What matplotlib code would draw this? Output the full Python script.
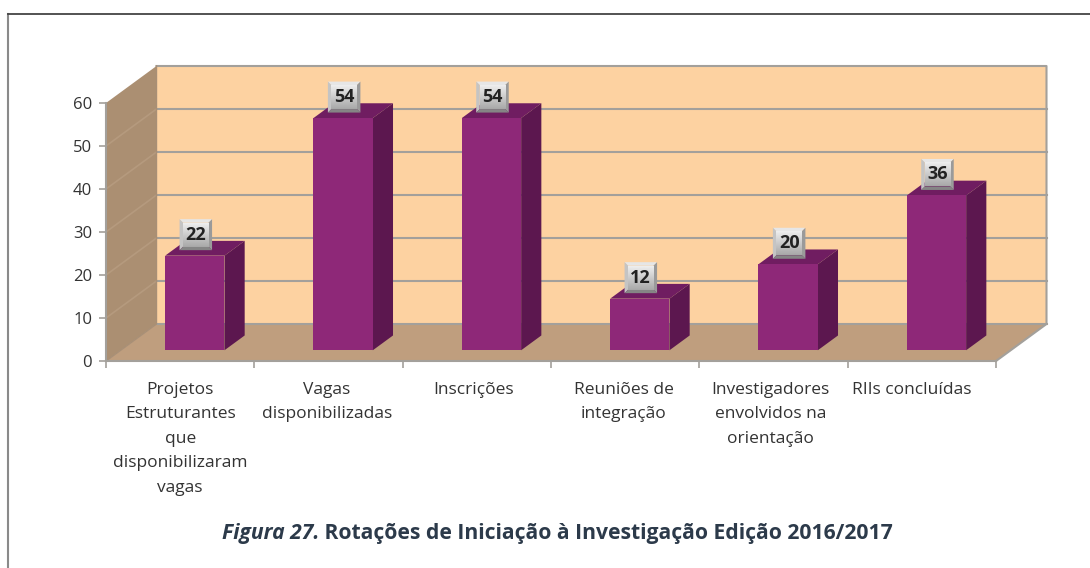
import numpy as np
import matplotlib
matplotlib.use("Agg")
import matplotlib.pyplot as plt
from matplotlib.lines import Line2D
from matplotlib.patches import Polygon

categories = ["Projetos\nEstruturantes\nque\ndisponibilizaram\nvagas",
              "Vagas\ndisponibilizadas",
              "Inscrições",
              "Reuniões de\nintegração",
              "Investigadores\nenvolvidos na\norientação",
              "RIIs concluídas"]
values = [22, 54, 54, 12, 20, 36]
y_ticks = [0, 10, 20, 30, 40, 50, 60]

W, H = 1090, 568
plt.rcParams['font.family'] = ['Open Sans', 'DejaVu Sans']

fig = plt.figure(figsize=(W / 100, H / 100), dpi=100)
ax = fig.add_axes([106 / W, (H - 361) / H, 890 / W, 258 / H])
ax.set_xlim(0, len(categories))
ax.set_ylim(0, 60)

px = len(categories) / 890   # one pixel in x units
py = 60 / 258                # one pixel in y units
DX, DY = 50.5 * px, 37 * py  # full depth of the chart box


def depth(x, y, d):
    return x + d * DX, y + d * DY


def poly(pts, color, z, **kw):
    ax.add_patch(Polygon(pts, closed=True, facecolor=color, edgecolor='none',
                         zorder=z, clip_on=False, **kw))


n = len(categories)
grey = '#a3a09b'

# back wall, side wall, floor
poly([depth(0, 0, 1), depth(n, 0, 1), depth(n, 60, 1), depth(0, 60, 1)], '#fdd2a1', 1)
poly([depth(0, 0, 0), depth(0, 0, 1), depth(0, 60, 1), depth(0, 60, 0)], '#ab8f72', 1)
poly([depth(0, 0, 0), depth(n, 0, 0), depth(n, 0, 1), depth(0, 0, 1)], '#bf9e7e', 3)

for t in y_ticks[1:-1]:
    xs, ys = zip(depth(0, t, 1), depth(n, t, 1))
    ax.plot(xs, ys, color=grey, lw=1.5, zorder=2, clip_on=False)
    xs, ys = zip(depth(0, t, 0), depth(0, t, 1))
    ax.plot(xs, ys, color='#b59a7e', lw=1.2, zorder=2, clip_on=False)

edge = [depth(0, 60, 1), depth(n, 60, 1), depth(n, 0, 1), depth(n, 0, 0)]
ax.plot(*zip(*edge), color=grey, lw=1.5, zorder=4, clip_on=False)
ax.plot(*zip(depth(0, 0, 1), depth(n, 0, 1)), color=grey, lw=1.5, zorder=4, clip_on=False)
ax.plot(*zip(depth(0, 0, 0), depth(0, 0, 1), depth(0, 60, 1)), color='#a88f76', lw=1, zorder=4, clip_on=False)

# bars
bar_w = 0.4
d0, d1 = 0.29, 0.69
grad = np.linspace(0.93, 0.66, 40).reshape(-1, 1)
for i, v in enumerate(values):
    x0 = i + 0.5 - bar_w / 2
    x1 = x0 + bar_w
    poly([depth(x0, 0, d0), depth(x1, 0, d0), depth(x1, v, d0), depth(x0, v, d0)], '#8e2878', 6)
    poly([depth(x0, v, d0), depth(x1, v, d0), depth(x1, v, d1), depth(x0, v, d1)], '#701d61', 5)
    poly([depth(x1, 0, d0), depth(x1, 0, d1), depth(x1, v, d1), depth(x1, v, d0)], '#5c174f', 5)

    # value box with a bevelled edge
    cx = i + 0.5 + d0 * DX + 1 * px
    bw, bh = 32.5 * px, 31 * py
    bx0, bx1 = cx - bw / 2, cx + bw / 2
    by0 = v + d0 * DY + 5.5 * py
    by1 = by0 + bh
    ex, ey = 3.5 * px, 3.5 * py
    poly([(bx0, by1), (bx1, by1), (bx1 - ex, by1 - ey), (bx0 + ex, by1 - ey)], '#e6e6e6', 8)
    poly([(bx0, by0), (bx0, by1), (bx0 + ex, by1 - ey), (bx0 + ex, by0 + ey)], '#c4c4c4', 8)
    poly([(bx1, by0), (bx1, by1), (bx1 - ex, by1 - ey), (bx1 - ex, by0 + ey)], '#9a9a9a', 8)
    poly([(bx0, by0), (bx1, by0), (bx1 - ex, by0 + ey), (bx0 + ex, by0 + ey)], '#858585', 8)
    ax.imshow(grad, extent=(bx0 + ex, bx1 - ex, by0 + ey, by1 - ey), cmap='gray', vmin=0, vmax=1,
              aspect='auto', zorder=8, clip_on=False, origin='upper')
    ax.text(cx, (by0 + by1) / 2, str(v), ha='center', va='center', fontsize=13,
            fontweight='bold', color='#222222', zorder=9)

ax.set_xlim(0, n)
ax.set_ylim(0, 60)

# axes
for s in ['top', 'right']:
    ax.spines[s].set_visible(False)
for s in ['left', 'bottom']:
    ax.spines[s].set_color(grey)
    ax.spines[s].set_linewidth(1.5)
    ax.spines[s].set_zorder(5)
ax.patch.set_alpha(0)

ax.set_yticks(y_ticks)
ax.tick_params(axis='y', length=5, width=1.2, color=grey, labelsize=12, labelcolor='#333333', pad=5)
ax.set_xticks(np.arange(n + 1))
ax.set_xticklabels([])
ax.tick_params(axis='x', which='major', length=5, width=1.2, color=grey)
# labels sit a little left of the category centres in the original
label_pos = [0.5, 1.49, 2.48, 3.49, 4.48, 5.43]
ax.set_xticks(label_pos, minor=True)
ax.set_xticklabels(categories, minor=True, fontsize=12.5, color='#333333', linespacing=1.71)
ax.tick_params(axis='x', which='minor', length=0, pad=15)

# caption, two styles on one line
title_color = '#2c3a4a'
t1 = fig.text(0.5, 1 - 534 / H, "Figura 27.", fontsize=15.2, fontweight='bold', style='italic',
              color=title_color, ha='left', va='center')
t2 = fig.text(0.5, 1 - 534 / H, " Rotações de Iniciação à Investigação Edição 2016/2017", fontsize=15.2,
              fontweight='bold', color=title_color, ha='left', va='center')
r = fig.canvas.get_renderer()
w1 = t1.get_window_extent(r).width
start = 222
t1.set_x(start / W)
t2.set_x((start + w1) / W)

# page frame
fig.add_artist(Line2D([8 / W, 8 / W], [0, 1 - 13.5 / H], color='#8a8a8a', lw=1.5))
fig.add_artist(Line2D([8 / W, 1], [1 - 13.5 / H, 1 - 13.5 / H], color='#444444', lw=1.3))

fig.savefig("out.png", dpi=100)
